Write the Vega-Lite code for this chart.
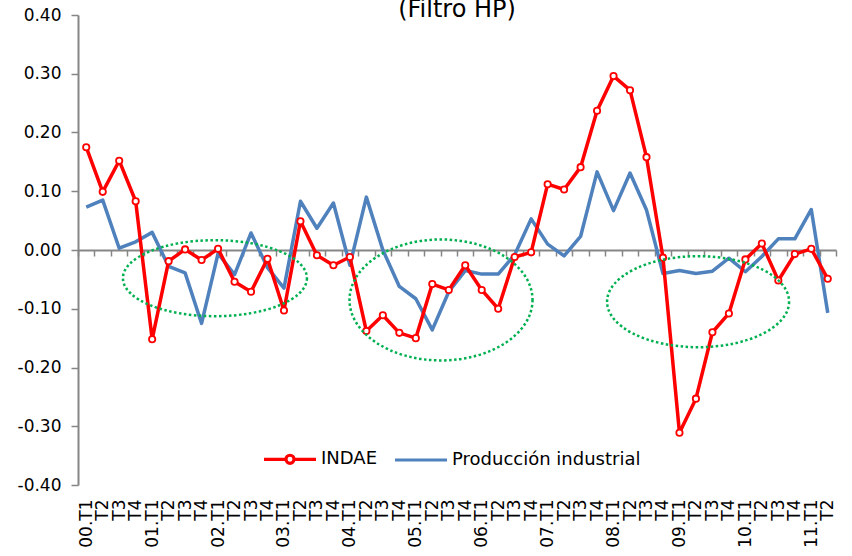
{
  "$schema": "https://vega.github.io/schema/vega-lite/v6.json",
  "width": 758,
  "height": 470,
  "autosize": "none",
  "padding": {"left": 78, "top": 15, "right": 16, "bottom": 71},
  "background": "white",
  "title": {"text": "(Filtro HP)", "font": "DejaVu Sans", "fontSize": 24, "fontWeight": "normal", "color": "black", "anchor": "middle", "offset": 0, "dy": 16},
  "config": {"view": {"stroke": null}, "font": "DejaVu Sans"},
  "datasets": {
    "series": [
      {"i": 0, "indae": 0.175, "prod": 0.073},
      {"i": 1, "indae": 0.099, "prod": 0.085},
      {"i": 2, "indae": 0.152, "prod": 0.003},
      {"i": 3, "indae": 0.083, "prod": 0.014},
      {"i": 4, "indae": -0.152, "prod": 0.030},
      {"i": 5, "indae": -0.019, "prod": -0.028},
      {"i": 6, "indae": 0.001, "prod": -0.039},
      {"i": 7, "indae": -0.017, "prod": -0.125},
      {"i": 8, "indae": 0.002, "prod": -0.006},
      {"i": 9, "indae": -0.054, "prod": -0.042},
      {"i": 10, "indae": -0.071, "prod": 0.029},
      {"i": 11, "indae": -0.015, "prod": -0.030},
      {"i": 12, "indae": -0.103, "prod": -0.065},
      {"i": 13, "indae": 0.049, "prod": 0.083},
      {"i": 14, "indae": -0.009, "prod": 0.037},
      {"i": 15, "indae": -0.026, "prod": 0.080},
      {"i": 16, "indae": -0.012, "prod": -0.026},
      {"i": 17, "indae": -0.138, "prod": 0.090},
      {"i": 18, "indae": -0.111, "prod": 0.000},
      {"i": 19, "indae": -0.141, "prod": -0.062},
      {"i": 20, "indae": -0.150, "prod": -0.083},
      {"i": 21, "indae": -0.058, "prod": -0.136},
      {"i": 22, "indae": -0.068, "prod": -0.071},
      {"i": 23, "indae": -0.026, "prod": -0.035},
      {"i": 24, "indae": -0.068, "prod": -0.041},
      {"i": 25, "indae": -0.100, "prod": -0.041},
      {"i": 26, "indae": -0.012, "prod": -0.008},
      {"i": 27, "indae": -0.004, "prod": 0.053},
      {"i": 28, "indae": 0.112, "prod": 0.010},
      {"i": 29, "indae": 0.103, "prod": -0.010},
      {"i": 30, "indae": 0.141, "prod": 0.023},
      {"i": 31, "indae": 0.237, "prod": 0.133},
      {"i": 32, "indae": 0.296, "prod": 0.067},
      {"i": 33, "indae": 0.272, "prod": 0.131},
      {"i": 34, "indae": 0.158, "prod": 0.068},
      {"i": 35, "indae": -0.013, "prod": -0.040},
      {"i": 36, "indae": -0.311, "prod": -0.035},
      {"i": 37, "indae": -0.253, "prod": -0.040},
      {"i": 38, "indae": -0.140, "prod": -0.036},
      {"i": 39, "indae": -0.108, "prod": -0.014},
      {"i": 40, "indae": -0.016, "prod": -0.037},
      {"i": 41, "indae": 0.011, "prod": -0.011},
      {"i": 42, "indae": -0.052, "prod": 0.019},
      {"i": 43, "indae": -0.007, "prod": 0.019},
      {"i": 44, "indae": 0.002, "prod": 0.069},
      {"i": 45, "indae": -0.049, "prod": -0.107}
    ],
    "ellipses": [
      {"id": 1, "cx": 7.81, "cy": -0.048},
      {"id": 2, "cx": 21.53, "cy": -0.085},
      {"id": 3, "cx": 37.13, "cy": -0.088}
    ]
  },
  "layer": [
    {
      "data": {"name": "series"},
      "mark": {"type": "line", "strokeWidth": 3.5, "strokeJoin": "round"},
      "encoding": {
        "x": {
          "field": "i", "type": "quantitative",
          "scale": {"domain": [-0.5, 45.5], "nice": false, "zero": false},
          "axis": {
            "orient": "bottom", "offset": -235,
            "values": [-0.5, 0.5, 1.5, 2.5, 3.5, 4.5, 5.5, 6.5, 7.5, 8.5, 9.5, 10.5, 11.5, 12.5, 13.5, 14.5, 15.5, 16.5, 17.5, 18.5, 19.5, 20.5, 21.5, 22.5, 23.5, 24.5, 25.5, 26.5, 27.5, 28.5, 29.5, 30.5, 31.5, 32.5, 33.5, 34.5, 35.5, 36.5, 37.5, 38.5, 39.5, 40.5, 41.5, 42.5, 43.5, 44.5, 45.5],
            "labels": false, "ticks": true, "tickSize": 6, "tickColor": "#868686", "tickWidth": 1.5,
            "domain": true, "domainColor": "#868686", "domainWidth": 2, "grid": false, "title": null
          }
        },
        "y": {
          "field": "prod", "type": "quantitative",
          "scale": {"domain": [-0.4, 0.4], "nice": false, "zero": false},
          "axis": {
            "orient": "left",
            "values": [-0.4, -0.3, -0.2, -0.1, 0, 0.1, 0.2, 0.3, 0.4],
            "labelExpr": "replace(format(datum.value, '.2f'), '\u2212', '-')",
            "tickSize": 7, "tickColor": "#868686", "tickWidth": 1.5,
            "domainColor": "#868686", "domainWidth": 2,
            "labelFont": "DejaVu Sans", "labelFontSize": 17, "labelColor": "black", "labelPadding": 10,
            "grid": false, "title": null
          }
        },
        "color": {
          "datum": "Producción industrial", "type": "nominal",
          "scale": {"domain": ["INDAE", "Producción industrial"], "range": ["#FF0000", "#4F81BD"]},
          "legend": {
            "orient": "none", "legendX": 184, "legendY": 416, "direction": "horizontal",
            "title": null, "padding": 0, "labelLimit": 0,
            "labelFont": "DejaVu Sans", "labelFontSize": 18, "labelColor": "black",
            "symbolSize": 2704, "symbolStrokeWidth": 3.2, "symbolType": "stroke",
            "labelOffset": 3, "columnPadding": 10,
            "encode": {
              "symbols": {
                "update": {
                  "shape": {"signal": "datum.value === 'INDAE' ? 'M-1,0L-0.155,0M0.155,0L1,0M0.155,0C0.155,0.086 0.086,0.155 0,0.155C-0.086,0.155 -0.155,0.086 -0.155,0C-0.155,-0.086 -0.086,-0.155 0,-0.155C0.086,-0.155 0.155,-0.086 0.155,0Z' : 'stroke'"},
                  "fill": {"signal": "datum.value === 'INDAE' ? 'white' : 'transparent'"}
                }
              }
            }
          }
        }
      }
    },
    {
      "data": {"name": "series"},
      "mark": {"type": "line", "strokeWidth": 3.5, "strokeJoin": "round"},
      "encoding": {
        "x": {
          "field": "i", "type": "quantitative",
          "axis": {
            "orient": "bottom",
            "values": [0, 1, 2, 3, 4, 5, 6, 7, 8, 9, 10, 11, 12, 13, 14, 15, 16, 17, 18, 19, 20, 21, 22, 23, 24, 25, 26, 27, 28, 29, 30, 31, 32, 33, 34, 35, 36, 37, 38, 39, 40, 41, 42, 43, 44, 45],
            "labelExpr": "['00.T1','T2','T3','T4','01.T1','T2','T3','T4','02.T1','T2','T3','T4','03.T1','T2','T3','T4','04.T1','T2','T3','T4','05.T1','T2','T3','T4','06.T1','T2','T3','T4','07.T1','T2','T3','T4','08.T1','T2','T3','T4','09.T1','T2','T3','T4','10.T1','T2','T3','T4','11.T1','T2'][datum.value]",
            "labelAngle": -90, "labelAlign": "right", "labelBaseline": "middle",
            "labelFont": "DejaVu Sans", "labelFontSize": 17, "labelColor": "black", "labelPadding": 14,
            "labelOverlap": false, "labelBound": false, "labelFlush": false,
            "ticks": false, "domain": false, "grid": false, "title": null
          }
        },
        "y": {"field": "indae", "type": "quantitative"},
        "color": {"datum": "INDAE", "type": "nominal"}
      }
    },
    {
      "data": {"name": "series"},
      "mark": {"type": "point", "shape": "circle", "size": 40, "filled": true, "fill": "white", "stroke": "#FF0000", "strokeWidth": 1.8, "opacity": 1},
      "encoding": {
        "x": {"field": "i", "type": "quantitative", "axis": null},
        "y": {"field": "indae", "type": "quantitative"}
      }
    },
    {
      "data": {"name": "ellipses"},
      "transform": [{"filter": "datum.id == 1"}],
      "mark": {"type": "point", "shape": "M1,0C1,0.228 0.552,0.413 0,0.413C-0.552,0.413 -1,0.228 -1,0C-1,-0.228 -0.552,-0.413 0,-0.413C0.552,-0.413 1,-0.228 1,0Z", "size": 33856, "filled": false, "stroke": "#00B050", "strokeWidth": 2.5, "strokeDash": [2.5, 2.5], "opacity": 1},
      "encoding": {
        "x": {"field": "cx", "type": "quantitative", "axis": null},
        "y": {"field": "cy", "type": "quantitative"}
      }
    },
    {
      "data": {"name": "ellipses"},
      "transform": [{"filter": "datum.id == 2"}],
      "mark": {"type": "point", "shape": "M1,0C1,0.365 0.552,0.661 0,0.661C-0.552,0.661 -1,0.365 -1,0C-1,-0.365 -0.552,-0.661 0,-0.661C0.552,-0.661 1,-0.365 1,0Z", "size": 33489, "filled": false, "stroke": "#00B050", "strokeWidth": 2.5, "strokeDash": [2.5, 2.5], "opacity": 1},
      "encoding": {
        "x": {"field": "cx", "type": "quantitative", "axis": null},
        "y": {"field": "cy", "type": "quantitative"}
      }
    },
    {
      "data": {"name": "ellipses"},
      "transform": [{"filter": "datum.id == 3"}],
      "mark": {"type": "point", "shape": "M1,0C1,0.276 0.552,0.5 0,0.5C-0.552,0.5 -1,0.276 -1,0C-1,-0.276 -0.552,-0.5 0,-0.5C0.552,-0.5 1,-0.276 1,0Z", "size": 33124, "filled": false, "stroke": "#00B050", "strokeWidth": 2.5, "strokeDash": [2.5, 2.5], "opacity": 1},
      "encoding": {
        "x": {"field": "cx", "type": "quantitative", "axis": null},
        "y": {"field": "cy", "type": "quantitative"}
      }
    }
  ],
  "resolve": {"axis": {"x": "independent"}}
}
